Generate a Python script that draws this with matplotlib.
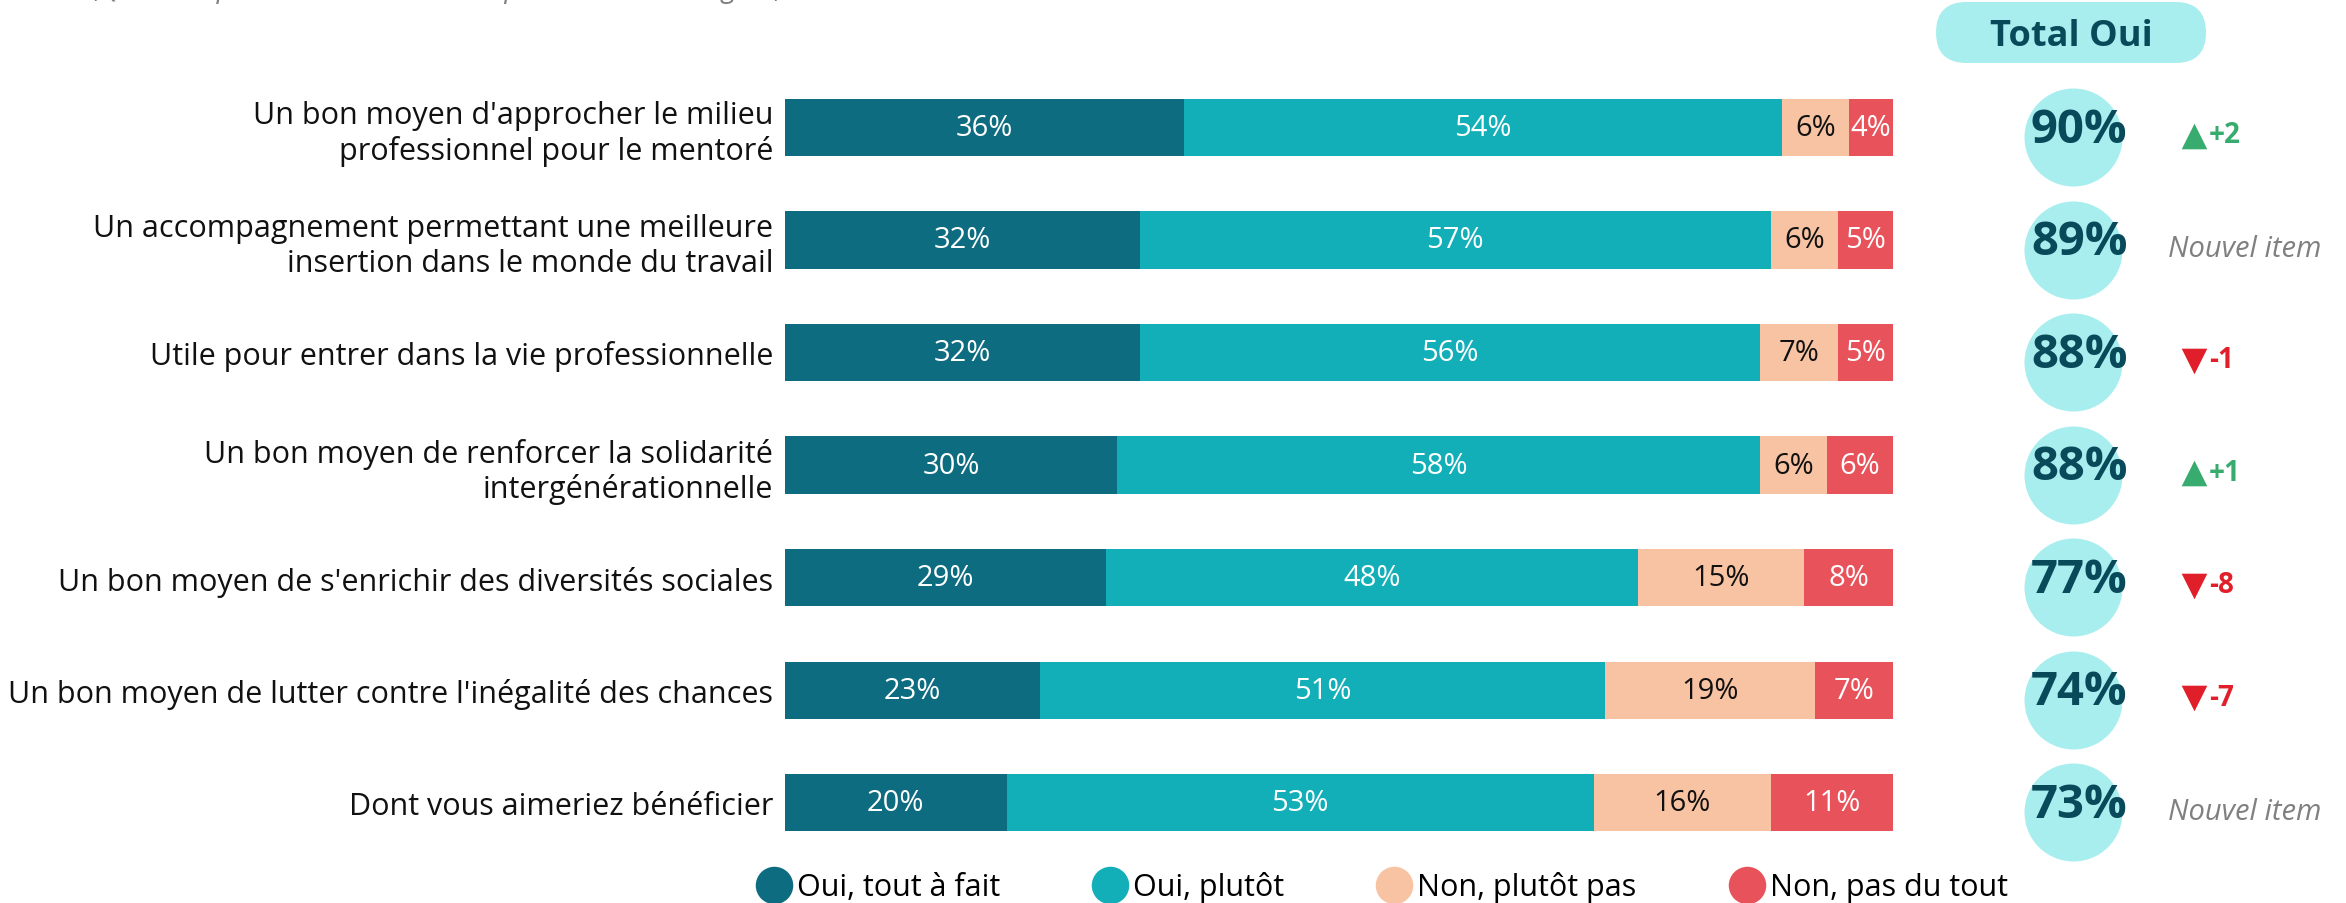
import matplotlib
matplotlib.use('Agg')
import matplotlib.pyplot as plt
from matplotlib.patches import FancyBboxPatch
from matplotlib.lines import Line2D

plt.rcParams['font.family'] = ['Open Sans', 'DejaVu Sans']

# data
categories = ["Un bon moyen d'approcher le milieu\nprofessionnel pour le mentoré",
              "Un accompagnement permettant une meilleure\ninsertion dans le monde du travail",
              "Utile pour entrer dans la vie professionnelle",
              "Un bon moyen de renforcer la solidarité\nintergénérationnelle",
              "Un bon moyen de s'enrichir des diversités sociales",
              "Un bon moyen de lutter contre l'inégalité des chances",
              "Dont vous aimeriez bénéficier"]
tout_a_fait = [36, 32, 32, 30, 29, 23, 20]
plutot = [54, 57, 56, 58, 48, 51, 53]
plutot_pas = [6, 6, 7, 6, 15, 19, 16]
pas_du_tout = [4, 5, 5, 6, 8, 7, 11]
total_oui = [90, 89, 88, 88, 77, 74, 73]
evolution = [2, None, -1, 1, -8, -7, None]
series_names = ['Oui, tout à fait', 'Oui, plutôt', 'Non, plutôt pas', 'Non, pas du tout']

c_dark = '#0E6C80'
c_teal = '#13AFB8'
c_peach = '#F7C3A2'
c_red = '#E8525A'
c_circle = '#A8EEEE'
c_num = '#084A5A'
c_up = '#38AC6F'
c_down = '#E01F2B'
colors = [c_dark, c_teal, c_peach, c_red]
label_colors = ['white', 'white', '#111111', 'white']

W, H = 2346, 904
fig = plt.figure(figsize=(W / 100, H / 100), dpi=100)

# main axes covers the bar span (0..100 %)
ax = fig.add_axes([785 / W, 0, 1108 / W, 1])
ax.set_xlim(0, 100)
ax.set_ylim(6.893, -1.142)
for s in ax.spines.values():
    s.set_visible(False)
ax.set_xticks([])

y = list(range(len(categories)))
left = [0] * len(y)
for vals, col, lcol, name in zip([tout_a_fait, plutot, plutot_pas, pas_du_tout],
                                 colors, label_colors, series_names):
    bars = ax.barh(y, vals, left=left, height=0.507, color=col, label=name)
    ax.bar_label(bars, labels=[f'{v}%' for v in vals], label_type='center',
                 color=lcol, fontsize=21)
    left = [a + b for a, b in zip(left, vals)]

ax.set_yticks(y)
ax.set_yticklabels(categories, fontsize=22, color='#111111')
ax.tick_params(axis='y', length=0, pad=8.5)

# Total Oui column
ax.scatter([116.25] * len(y), [i + 0.085 for i in y], s=4980, color=c_circle,
           clip_on=False, zorder=2, linewidths=0)
for i, v in zip(y, total_oui):
    ax.text(116.8, i + 0.015, f'{v}%', ha='center', va='center', fontsize=34,
            fontweight='bold', color=c_num, clip_on=False, zorder=3)

# evolution column
for i, e in zip(y, evolution):
    if e is None:
        ax.text(124.8, i + 0.08, 'Nouvel item', ha='left', va='center', fontsize=21,
                style='italic', color='#808080', clip_on=False)
    else:
        col = c_up if e > 0 else c_down
        ax.scatter([127.2], [i + 0.075], marker='^' if e > 0 else 'v', s=340,
                   color=col, clip_on=False, linewidths=0)
        ax.text(128.5, i + 0.065, f'{e:+d}', ha='left', va='center', fontsize=20,
                fontweight='bold', color=col, clip_on=False)

# overlay in pixel units for header pill and cut-off subtitle
ov = fig.add_axes([0, 0, 1, 1], zorder=-1)
ov.set_xlim(0, W)
ov.set_ylim(H, 0)
ov.axis('off')
ov.add_patch(FancyBboxPatch((1936, 3), 270, 61, boxstyle='round,pad=0,rounding_size=30.5',
                            facecolor=c_circle, edgecolor='none'))
ov.text(2071, 37, 'Total Oui', ha='center', va='center', fontsize=26,
        fontweight='bold', color=c_num)
ov.text(92, -3, "(Question posée à l'ensemble des personnes interrogées, une réponse par proposition)",
        ha='left', va='baseline', fontsize=20, style='italic', color='#7F7F7F')

# legend
handles = [Line2D([], [], marker='o', linestyle='none', markersize=27,
                  markerfacecolor=c, markeredgewidth=0) for c in colors]
fig.legend(handles, series_names, loc='center left', bbox_to_anchor=(759 / W, 16 / H),
           ncol=4, frameon=False, fontsize=22, handlelength=1.0, handletextpad=0.25,
           columnspacing=3.1, borderpad=0, borderaxespad=0)

fig.savefig('out.png', dpi=100)
